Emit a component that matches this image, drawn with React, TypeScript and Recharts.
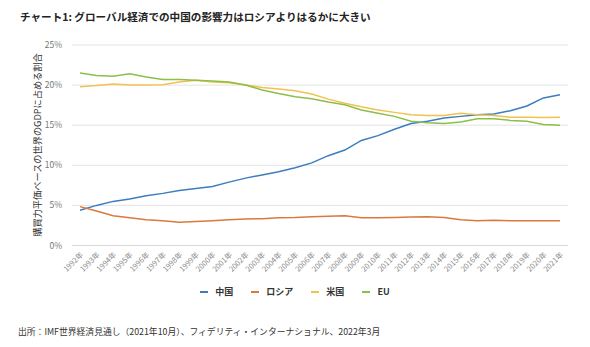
import React from "react";
import { LineChart, Line, XAxis, YAxis, CartesianGrid, Legend } from "recharts";

const years = ["1992年","1993年","1994年","1995年","1996年","1997年","1998年","1999年","2000年","2001年","2002年","2003年","2004年","2005年","2006年","2007年","2008年","2009年","2010年","2011年","2012年","2013年","2014年","2015年","2016年","2017年","2018年","2019年","2020年","2021年"];
const china = [4.4, 5.0, 5.5, 5.8, 6.2, 6.5, 6.85, 7.1, 7.35, 7.9, 8.4, 8.8, 9.2, 9.7, 10.3, 11.2, 11.9, 13.1, 13.7, 14.5, 15.2, 15.5, 15.9, 16.1, 16.3, 16.4, 16.8, 17.4, 18.4, 18.8];
const russia = [4.85, 4.3, 3.7, 3.45, 3.2, 3.1, 2.9, 3.0, 3.1, 3.2, 3.3, 3.35, 3.45, 3.5, 3.6, 3.65, 3.7, 3.45, 3.45, 3.5, 3.55, 3.6, 3.5, 3.2, 3.1, 3.15, 3.1, 3.1, 3.1, 3.1];
const us = [19.8, 19.95, 20.15, 20.0, 20.0, 20.05, 20.4, 20.6, 20.4, 20.3, 20.0, 19.7, 19.5, 19.3, 18.9, 18.25, 17.75, 17.3, 16.9, 16.6, 16.3, 16.2, 16.2, 16.5, 16.3, 16.2, 16.0, 16.0, 15.95, 16.0];
const eu = [21.5, 21.2, 21.1, 21.4, 21.0, 20.7, 20.7, 20.6, 20.5, 20.4, 20.0, 19.4, 18.95, 18.55, 18.3, 17.9, 17.55, 16.9, 16.5, 16.1, 15.5, 15.3, 15.2, 15.4, 15.8, 15.8, 15.6, 15.5, 15.1, 15.0];
const yTicks = [0, 5, 10, 15, 20, 25];

const seriesDefs = [
  { key: "china", name: "中国", color: "#3b7dbd", values: china },
  { key: "russia", name: "ロシア", color: "#d97a3c", values: russia },
  { key: "us", name: "米国", color: "#f2c24f", values: us },
  { key: "eu", name: "EU", color: "#8cbf4a", values: eu },
];

const data = years.map((y, i) => {
  const row: Record<string, any> = { year: y };
  seriesDefs.forEach((s) => (row[s.key] = s.values[i]));
  return row;
});

const FONT = '"Noto Sans CJK JP", "Noto Sans", sans-serif';

const LegendContent = () => (
  <div style={{ display: "flex", justifyContent: "center", fontFamily: FONT, fontSize: 9, color: "#333", fontWeight: 600 }}>
    {seriesDefs.map((s) => (
      <div key={s.key} style={{ display: "flex", alignItems: "center", margin: "0 9px" }}>
        <span style={{ display: "inline-block", width: 8, height: 2, background: s.color, marginRight: 7 }} />
        <span>{s.name}</span>
      </div>
    ))}
  </div>
);

export default function App() {
  return (
    <div style={{ position: "absolute", left: 0, top: 0, width: 590, height: 347, background: "#fff", fontFamily: FONT }}>
      <div style={{ position: "absolute", left: 20, top: 9, fontSize: 10.6, fontWeight: 700, color: "#222", whiteSpace: "nowrap" }}>
        チャート1: グローバル経済での中国の影響力はロシアよりはるかに大きい
      </div>
      <div style={{ position: "absolute", left: 37, top: 145, transform: "translate(-50%, -50%) rotate(-90deg)", fontSize: 9.2, color: "#333", whiteSpace: "nowrap" }}>
        購買力平価ベースの世界のGDPに占める割合
      </div>
      <LineChart width={590} height={347} data={data} margin={{ top: 45, right: 22, bottom: 51.5, left: 0 }}>
        <CartesianGrid vertical={false} stroke="#e3e3e3" />
        <XAxis
          dataKey="year"
          interval={0}
          height={50}
          padding={{ left: 8, right: 8 }}
          tickLine={false}
          tickSize={0}
          tickMargin={6}
          axisLine={{ stroke: "#d8d8d8" }}
          angle={-45}
          textAnchor="end"
          tick={{ fontSize: 7.5, fill: "#888", fontFamily: FONT }}
        />
        <YAxis
          width={72}
          domain={[0, 25]}
          ticks={yTicks}
          tickFormatter={(v) => `${v}%`}
          tickLine={false}
          tickSize={0}
          tickMargin={10}
          axisLine={false}
          tick={{ fontSize: 8.5, fill: "#777", fontFamily: FONT }}
        />
        {seriesDefs.map((s) => (
          <Line key={s.key} type="linear" dataKey={s.key} name={s.name} stroke={s.color} strokeWidth={1.5} dot={false} isAnimationActive={false} />
        ))}
        <Legend layout="horizontal" verticalAlign="middle" align="center" wrapperStyle={{ top: 285, left: 0, width: 590 }} content={<LegendContent />} />
      </LineChart>
      <div style={{ position: "absolute", left: 18, top: 325, fontSize: 8.8, color: "#333", whiteSpace: "nowrap" }}>
        出所：IMF世界経済見通し（2021年10月）、フィデリティ・インターナショナル、2022年3月
      </div>
    </div>
  );
}
